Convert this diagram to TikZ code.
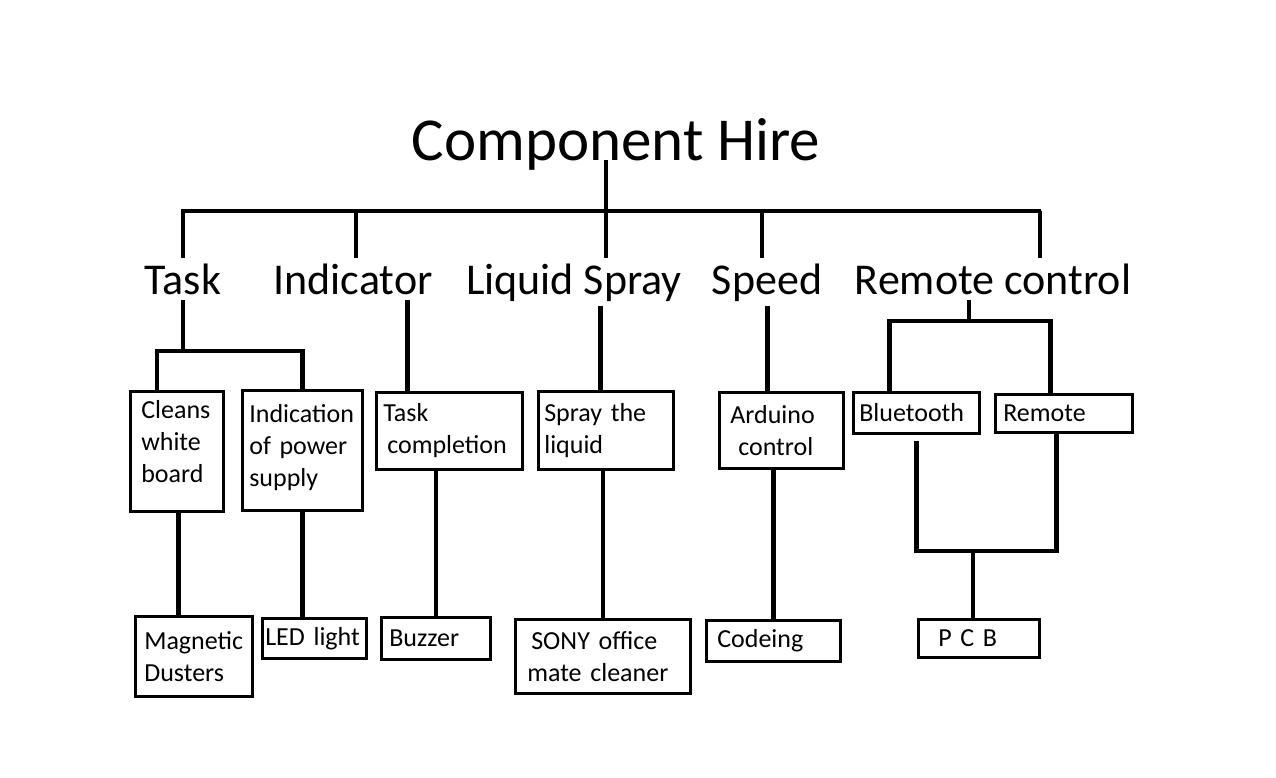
\documentclass[tikz,border=0pt]{standalone}
\usepackage{fontspec}
\setmainfont{Carlito}
\usepackage{tikz}

\begin{document}
\begin{tikzpicture}[x=1pt,y=-1pt,
		link/.style={line width=4.5pt},
		part/.style={draw, line width=2.6pt, anchor=north west, align=left,
			inner ysep=0pt, font=\fontsize{26}{32}\selectfont},
		head/.style={anchor=base, inner xsep=0pt, inner ysep=5pt,
			font=\fontsize{44}{50}\selectfont}]
				\useasboundingbox (0,0) rectangle (1276,777);

				% title and first level
				\node[anchor=base, inner sep=0pt, font=\fontsize{61}{70}\selectfont] (title) at (616,160) {Component Hire};
				\node[head] (taskl) at (183,294) {Task};
				\node[head] (indl) at (353,294) {Indicator};
				\node[head] (liql) at (574,294) {Liquid Spray};
				\node[head] (spdl) at (767,294) {Speed};
				\node[head] (rcl) at (993,294) {Remote control};

				\coordinate (top) at (606,211);
				\coordinate (barL) at (181,211);
				\coordinate (barR) at (1041,211);
				\draw[link] (title.base -| top) -- (top);
				\draw[link] (barL) -- (barR);
				\foreach \n/\dx in {taskl/0, indl/3, liql/32, spdl/-5, rcl/47}
				\draw[link] ([xshift=\dx pt]\n.north |- barL) -- ([xshift=\dx pt]\n.north);

				% second level
				\node[part, inner xsep=11pt, text width=71pt, minimum height=120pt, text depth=84pt] (clean) at (129,390) {Cleans\\white\\board};
				\node[part, inner xsep=7pt, text width=106pt, minimum height=120pt, text depth=74pt] (ind) at (241,389) {Indication\\of power\\supply};
				\node[part, inner xsep=7pt, text width=132pt, minimum height=77pt] (taskc) at (375,391) {Task\\\hspace*{4pt}completion};
				\node[part, inner xsep=6pt, text width=123pt, minimum height=78pt] (spray) at (537,390) {Spray the\\liquid};
				\node[part, inner xsep=11pt, text width=102pt, minimum height=76pt] (ard) at (718,391) {Arduino\\\hspace*{8pt}control};
				\node[part, inner xsep=6pt, text width=114pt, minimum height=41pt] (blue) at (852,391) {Bluetooth};
				\node[part, inner xsep=8pt, text width=121pt, minimum height=38pt] (remote) at (994,393) {Remote};

				\coordinate (tj) at (183,351);
				\coordinate (rj) at (969,321);
				\draw[link] (taskl.south) -- (tj);
				\draw[link] ([xshift=-20pt]clean.north) |- (tj -| ind.north) -- (ind.north);
				\draw[link] ([xshift=-42pt]taskc.north |- indl.south) -- ([xshift=-42pt]taskc.north);
				\draw[link] ([xshift=-5.5pt]spray.north |- liql.south) -- ([xshift=-5.5pt]spray.north);
				\draw[link] ([xshift=-14pt]ard.north |- spdl.south) -- ([xshift=-14pt]ard.north);
				\draw[link] ([xshift=-24pt]rcl.south) -- (rj);
				\draw[link] ([xshift=-27pt]blue.north) |- (rj) -| ([xshift=-13.5pt]remote.north);

				% third level
				\node[part, inner xsep=9pt, text width=99pt, minimum height=80pt] (dust) at (134,615) {Magnetic\\Dusters};
				\node[part, inner xsep=3pt, text width=98pt, minimum height=40pt] (led) at (261,617) {LED light};
				\node[part, inner xsep=8pt, text width=93pt, minimum height=42pt] (buzz) at (380,616) {Buzzer};
				\node[part, inner xsep=12pt, text width=151pt, minimum height=74pt] (sony) at (514,618) {\hspace*{4pt}SONY office\\mate cleaner};
				\node[part, inner xsep=11pt, text width=112pt, minimum height=41pt] (code) at (705,619) {Codeing};
				\node[part, inner xsep=20pt, text width=81pt, minimum height=38pt] (pcb) at (917,618) {P C B};

				\coordinate (pj) at (973,551);
				\draw[link] ([xshift=1.5pt]clean.south) -- ([xshift=1.5pt]clean.south |- dust.north);
				\draw[link] (ind.south) -- (ind.south |- led.north);
				\draw[link] (buzz.north |- taskc.south) -- (buzz.north);
				\draw[link] (sony.north |- spray.south) -- (sony.north);
				\draw[link] (code.north |- ard.south) -- (code.north);
				\draw[link] ([yshift=-6pt]blue.south) |- ([xshift=-7.5pt]remote.south |- pj) -- ([xshift=-7.5pt]remote.south);
				\draw[link] (pj) -- (pj |- pcb.north);

			\end{tikzpicture}
\end{document}
